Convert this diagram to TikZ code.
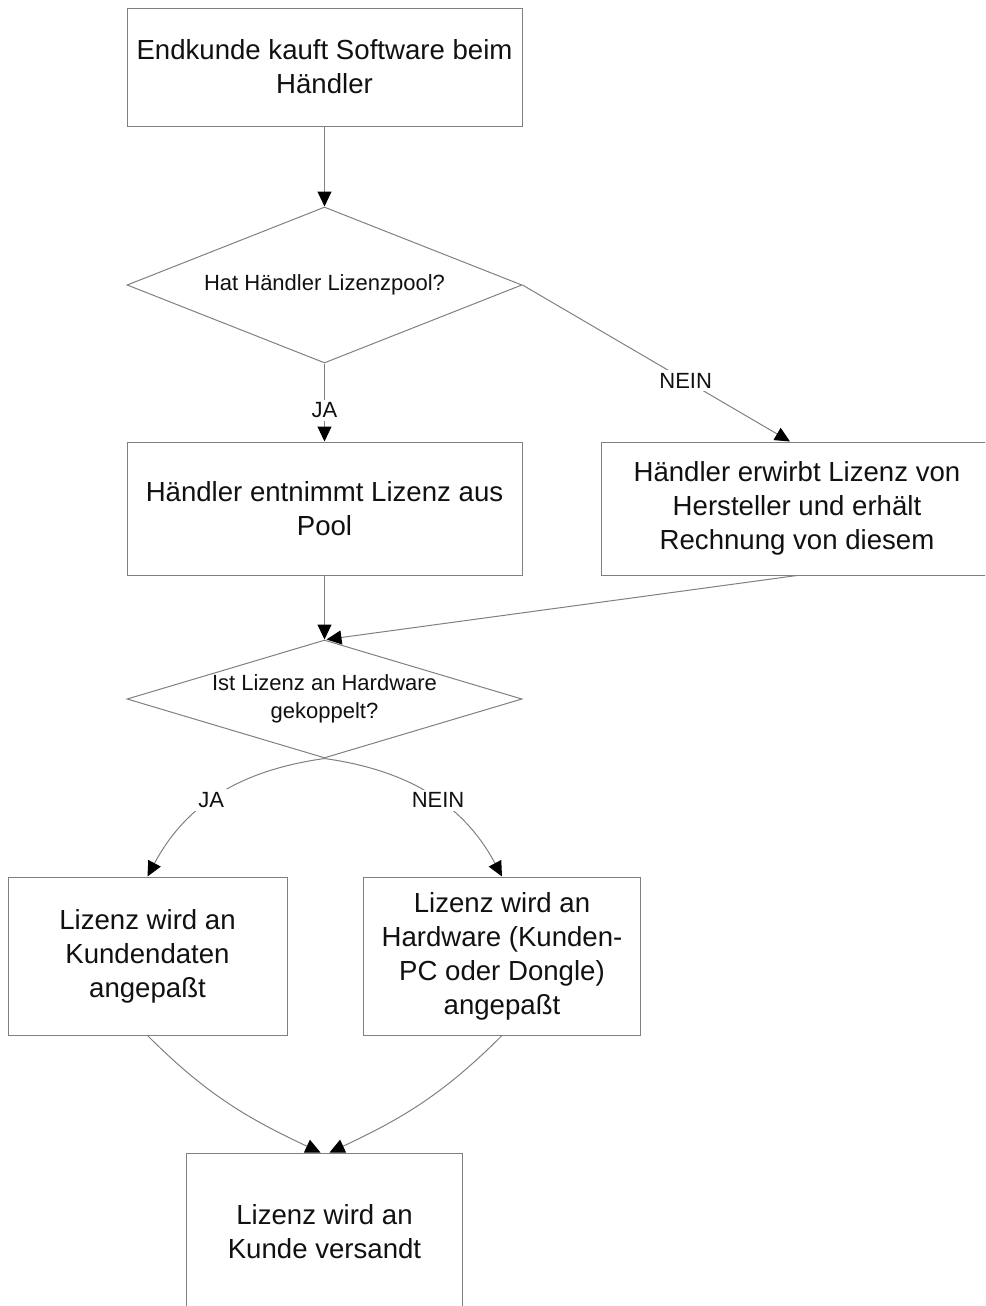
\documentclass[tikz,border=0pt]{standalone}
\usepackage{fontspec}
\setmainfont{Liberation Sans}
\usetikzlibrary{shapes.geometric,arrows.meta}

\definecolor{linegray}{HTML}{808080}
\definecolor{inkblack}{HTML}{111111}

\begin{document}
\begin{tikzpicture}[
  x=0.5pt, y=-0.5pt,
  every node/.style={text=inkblack},
  stepbox/.style={rectangle, draw=linegray, line width=0.5pt, fill=white,
    align=center, inner sep=0pt,
    font=\fontsize{13.8}{17}\selectfont},
  decision/.style={diamond, draw=linegray, line width=0.5pt, fill=white,
    inner sep=0pt},
  dtext/.style={align=center, inner sep=0pt,
    font=\fontsize{11}{14}\selectfont},
  lab/.style={fill=white, inner sep=1.5pt,
    font=\fontsize{11}{13}\selectfont},
  flow/.style={draw=linegray, line width=0.5pt,
    -{Triangle[length=7.5pt,width=7pt,color=black]}},
]
\useasboundingbox (0,0) rectangle (985,1306);
\clip (0,0) rectangle (985,1306);

% process boxes
\node[stepbox, minimum width=197.5pt, minimum height=59pt] (b1) at (324.5,67)
  {Endkunde kauft Software beim\\Händler};
\node[stepbox, minimum width=197.5pt, minimum height=66.5pt] (b2) at (324.5,508.5)
  {Händler entnimmt Lizenz aus\\Pool};
\node[stepbox, minimum width=196pt, minimum height=66.5pt] (b3) at (797,508.5)
  {Händler erwirbt Lizenz von\\Hersteller und erhält\\Rechnung von diesem};
\node[stepbox, minimum width=139.5pt, minimum height=79pt] (b4) at (147.5,956)
  {Lizenz wird an\\Kundendaten\\angepaßt};
\node[stepbox, minimum width=138.5pt, minimum height=79pt] (b5) at (502,956)
  {Lizenz wird an\\Hardware (Kunden-\\PC oder Dongle)\\angepaßt};
\node[stepbox, minimum width=138pt, minimum height=79pt] (b6) at (324.5,1232)
  {Lizenz wird an\\Kunde versandt};

% decisions
\node[decision, minimum width=197.5pt, minimum height=78pt] (d1) at (324.5,285) {};
\node[dtext] at (d1.center) {Hat Händler Lizenzpool?};
\node[decision, minimum width=197.5pt, minimum height=59pt] (d2) at (324.5,699) {};
\node[dtext] at (d2.center) {Ist Lizenz an Hardware\\gekoppelt?};

% connectors
\draw[flow] (b1.south) -- (d1.north);
\draw[flow] (d1.south) -- node[lab, pos=0.6] {JA} (b2.north);
\draw[flow] (d1.east) -- node[lab, pos=0.61] {NEIN} ([xshift=-3.5pt]b3.north);
\draw[flow] (b2.south) -- (d2.north);
\draw[flow] (b3.south) -- ([xshift=1pt]d2.north);
\draw[flow] (d2.south) to[out=188, in=62] node[lab, pos=0.55] {JA} (b4.north);
\draw[flow] (d2.south) to[out=-8, in=118] node[lab, pos=0.55] {NEIN} (b5.north);
\draw[flow] (b4.south) to[out=-45, in=155] ([xshift=-2pt]b6.north);
\draw[flow] (b5.south) to[out=-135, in=25] ([xshift=2.5pt]b6.north);
\end{tikzpicture}
\end{document}
